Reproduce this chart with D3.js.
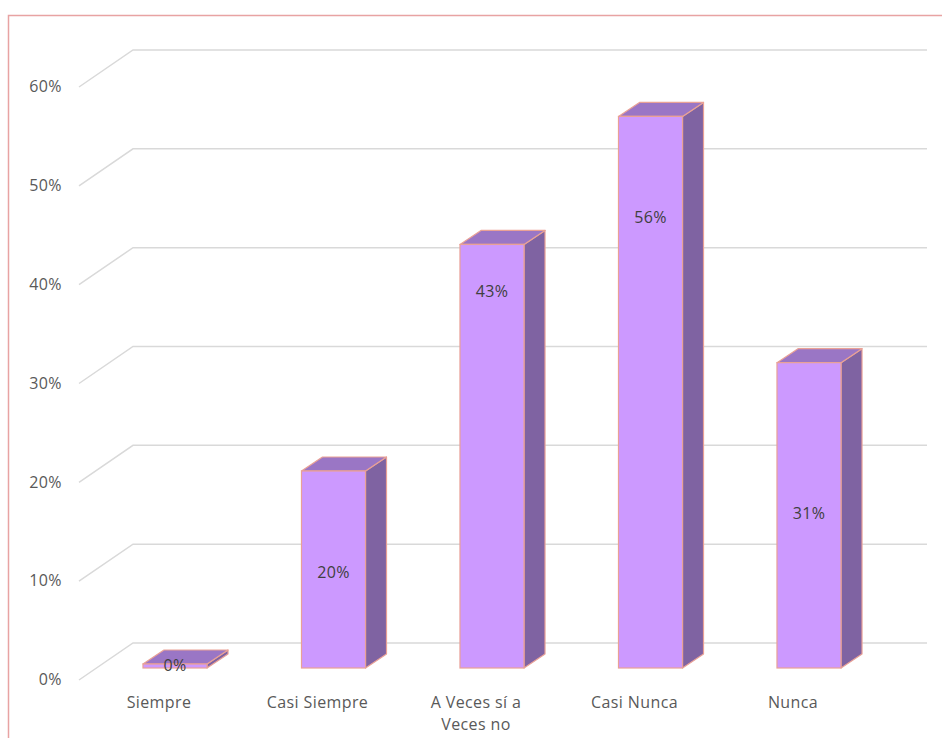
<!DOCTYPE html>
<html>
<head>
<meta charset="utf-8">
<script src="https://cdn.jsdelivr.net/npm/d3@7"></script>
<style>
  html, body { margin: 0; padding: 0; background: #ffffff; }
  svg { display: block; }
  text { font-family: "Open Sans", "Noto Sans", sans-serif; letter-spacing: 0.4px; }
</style>
</head>
<body>
<svg id="chart" width="942" height="738"></svg>
<script>
// Survey response categories and their shares
const categories = ["Siempre", "Casi Siempre", "A Veces sí a Veces no", "Casi Nunca", "Nunca"];
const values = [0, 0.20, 0.43, 0.56, 0.31];
// Level (in value units) at which each data label sits on its column
const labelLevels = [0, 0.095, 0.38, 0.455, 0.155];
const tickValues = [0, 0.1, 0.2, 0.3, 0.4, 0.5, 0.6];

const W = 942, H = 738;
const svg = d3.select("#chart");

// Chart frame
svg.append("path")
  .attr("d", `M8.5,${H} L8.5,15.5 L${W},15.5`)
  .attr("fill", "none")
  .attr("stroke", "#e8a3a3")
  .attr("stroke-width", 1.5);

// Back wall and front plane vertical scales
const yBack = d3.scaleLinear().domain([0, 0.6]).range([643, 50]);
const yFront = d3.scaleLinear().domain([0, 0.6]).range([668, 77]);
// Column centres on the front plane
const x = d3.scalePoint().domain(categories).range([95.75, 888.25]).padding(0.5);

const wallLeft = 133, wallRight = 927;
const floorDx = -54, floorDy = 37;      // full depth of the floor
const barDx = 21, barDy = -14;          // depth of each column
const barW = x.step() * 0.404;

const fmt = d3.format(".0%");
const fontSize = 16;

// Gridlines: along the back wall, then down the side wall
const grid = svg.append("g").attr("class", "grid");
tickValues.forEach(t => {
  const y = yBack(t);
  grid.append("path")
    .attr("d", `M${wallLeft + floorDx},${y + floorDy} L${wallLeft},${y} L${wallRight},${y}`)
    .attr("fill", "none")
    .attr("stroke", "#d9d9d9")
    .attr("stroke-width", 1.5);
});

// Value axis labels
svg.append("g").selectAll("text")
  .data(tickValues)
  .join("text")
  .attr("x", 62)
  .attr("y", d => yBack(d) + floorDy + 1)
  .attr("text-anchor", "end")
  .attr("dominant-baseline", "middle")
  .attr("font-size", fontSize)
  .attr("fill", "#595959")
  .text(d => fmt(d));

// Columns
const bars = svg.append("g").selectAll("g")
  .data(categories.map((c, i) => ({ c, v: values[i], lv: labelLevels[i] })))
  .join("g");

const stroke = "#e9a196";
bars.each(function(d) {
  const g = d3.select(this);
  const x0 = x(d.c) - barW / 2, x1 = x(d.c) + barW / 2;
  const yb = yFront(0);
  const yt = Math.min(yFront(d.v), yb - 4);
  // side face
  g.append("path")
    .attr("d", `M${x1},${yt} L${x1 + barDx},${yt + barDy} L${x1 + barDx},${yb + barDy} L${x1},${yb} Z`)
    .attr("fill", "#7f63a2").attr("stroke", stroke).attr("stroke-width", 1.2).attr("stroke-linejoin", "round");
  // top face
  g.append("path")
    .attr("d", `M${x0},${yt} L${x1},${yt} L${x1 + barDx},${yt + barDy} L${x0 + barDx},${yt + barDy} Z`)
    .attr("fill", "#9a76c5").attr("stroke", stroke).attr("stroke-width", 1.2).attr("stroke-linejoin", "round");
  // front face
  g.append("rect")
    .attr("x", x0).attr("y", yt).attr("width", barW).attr("height", yb - yt)
    .attr("fill", "#cc99ff").attr("stroke", stroke).attr("stroke-width", 1.2);
});

// Data labels
bars.append("text")
  .attr("x", d => x(d.c))
  .attr("y", d => yFront(d.lv) - 1)
  .attr("text-anchor", "middle")
  .attr("dominant-baseline", "middle")
  .attr("font-size", fontSize)
  .attr("fill", "#404040")
  .text(d => fmt(d.v));

// Category labels along the front edge of the floor, wrapped to two lines when long
const catG = svg.append("g");
categories.forEach(c => {
  const words = c.split(" ");
  const lines = [];
  let line = [];
  words.forEach(w => {
    const trial = line.concat(w).join(" ");
    if (trial.length > 13 && line.length) { lines.push(line.join(" ")); line = [w]; }
    else line.push(w);
  });
  lines.push(line.join(" "));
  const t = catG.append("text")
    .attr("x", x(c) - 16)
    .attr("y", 704)
    .attr("text-anchor", "middle")
    .attr("dominant-baseline", "middle")
    .attr("font-size", fontSize)
    .attr("fill", "#595959");
  lines.forEach((l, i) => {
    t.append("tspan").attr("x", x(c) - 16).attr("dy", i === 0 ? 0 : 22).text(l);
  });
});
</script>
</body>
</html>
